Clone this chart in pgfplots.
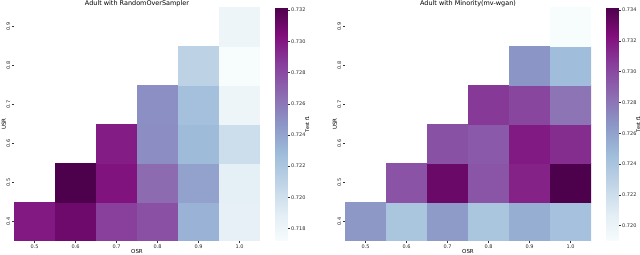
\documentclass[border=0pt]{standalone}
\usepackage{pgfplots}
\pgfplotsset{compat=1.18}
\usepackage{pgfplotstable}
\usepackage{fontspec}
\setmainfont{DejaVu Sans}
\pgfplotstableread{
x y c
0.5 0.4 0.7300
0.6 0.4 0.7310
0.7 0.4 0.7285
0.8 0.4 0.7278
0.9 0.4 0.7233
1.0 0.4 0.7186
0.5 0.5 nan
0.6 0.5 0.7322
0.7 0.5 0.7302
0.8 0.5 0.7266
0.9 0.5 0.7241
1.0 0.5 0.7187
0.5 0.6 nan
0.6 0.6 nan
0.7 0.6 0.7298
0.8 0.6 0.7251
0.9 0.6 0.7228
1.0 0.6 0.7202
0.5 0.7 nan
0.6 0.7 nan
0.7 0.7 nan
0.8 0.7 0.7250
0.9 0.7 0.7225
1.0 0.7 0.7180
0.5 0.8 nan
0.6 0.8 nan
0.7 0.8 nan
0.8 0.8 nan
0.9 0.8 0.7210
1.0 0.8 0.7172
0.5 0.9 nan
0.6 0.9 nan
0.7 0.9 nan
0.8 0.9 nan
0.9 0.9 nan
1.0 0.9 0.7180
}\ros
\pgfplotstableread{
x y c
0.5 0.4 0.7265
0.6 0.4 0.7240
0.7 0.4 0.7264
0.8 0.4 0.7240
0.9 0.4 0.7254
1.0 0.4 0.7243
0.5 0.5 nan
0.6 0.5 0.7296
0.7 0.5 0.7331
0.8 0.5 0.7295
0.9 0.5 0.7316
1.0 0.5 0.7342
0.5 0.6 nan
0.6 0.6 nan
0.7 0.6 0.7297
0.8 0.6 0.7293
0.9 0.6 0.7319
1.0 0.6 0.7312
0.5 0.7 nan
0.6 0.7 nan
0.7 0.7 nan
0.8 0.7 0.7307
0.9 0.7 0.7302
1.0 0.7 0.7281
0.5 0.8 nan
0.6 0.8 nan
0.7 0.8 nan
0.8 0.8 nan
0.9 0.8 0.7266
1.0 0.8 0.7246
0.5 0.9 nan
0.6 0.9 nan
0.7 0.9 nan
0.8 0.9 nan
0.9 0.9 nan
1.0 0.9 0.7190
}\mvwgan
\pgfplotsset{
  colormap={bupu}{rgb255=(247,252,253) rgb255=(224,236,244) rgb255=(191,211,230) rgb255=(158,188,218) rgb255=(140,150,198) rgb255=(140,107,177) rgb255=(136,65,157) rgb255=(129,15,124) rgb255=(77,0,75)},
  every axis title shift=0pt,
  hm/.style={
    scale only axis, width=246bp, height=234bp,
    xmin=0.45, xmax=1.05, ymin=0.35, ymax=0.95,
    axis line style={draw=none},
    xtick={0.5,0.6,...,1.0}, ytick={0.4,0.5,...,0.9},
    xticklabels={0.5,0.6,0.7,0.8,0.9,1.0},
    yticklabels={0.4,0.5,0.6,0.7,0.8,0.9},
    xtick pos=bottom, ytick pos=left, tick align=outside,
    major tick length=2bp,
    tick style={draw=black!80, line width=0.4pt},
    tick label style={font=\fontsize{5}{6}\selectfont, text=black!85},
    xticklabel style={inner sep=1.5bp},
    yticklabel style={rotate=90, anchor=south, inner sep=1.5bp},
    label style={font=\fontsize{5.5}{6.5}\selectfont},
    xlabel={OSR}, ylabel={USR},
    xlabel style={inner sep=0pt, yshift=0.5bp},
    ylabel style={inner sep=0pt, yshift=-1bp},
    title style={font=\fontsize{6.5}{7.5}\selectfont, at={(0.5,1)}, anchor=base, inner sep=0pt, yshift=1.3bp},
    colormap name=bupu,
    colorbar,
    unbounded coords=jump,
    colorbar style={
      at={(parent axis.north east)}, anchor=north west, xshift=7bp,
      width=12bp,
      axis line style={draw=none},
      ytick pos=right, yticklabel pos=right, tick align=outside,
      major tick length=2bp,
      tick style={draw=black!80, line width=0.4pt},
      yticklabel style={font=\fontsize{5}{6}\selectfont, inner sep=1.5bp, /pgf/number format/.cd, fixed, fixed zerofill, precision=3, assume math mode=true},
      ylabel={Test f1},
      ylabel shift=-1.8bp,
      ylabel style={font=\fontsize{5}{6}\selectfont, inner sep=0pt},
    },
  }
}
\begin{document}
\begin{tikzpicture}
\path[use as bounding box] (0,0) rectangle (640bp,255bp);
\begin{axis}[hm, at={(14bp,14bp)}, anchor=south west,
  title={Adult with RandomOverSampler},
  point meta min=0.7172, point meta max=0.7322,
  colorbar style={ytick={0.718,0.720,...,0.7321}}]
\addplot[matrix plot*, mesh/cols=6, point meta=explicit] table[x=x, y=y, meta=c] {\ros};
\end{axis}
\begin{axis}[hm, at={(345bp,14bp)}, anchor=south west,
  title={Adult with Minority(mv-wgan)},
  point meta min=0.7190, point meta max=0.7342,
  colorbar style={ytick={0.720,0.722,...,0.7341}}]
\addplot[matrix plot*, mesh/cols=6, point meta=explicit] table[x=x, y=y, meta=c] {\mvwgan};
\end{axis}
\end{tikzpicture}
\end{document}
